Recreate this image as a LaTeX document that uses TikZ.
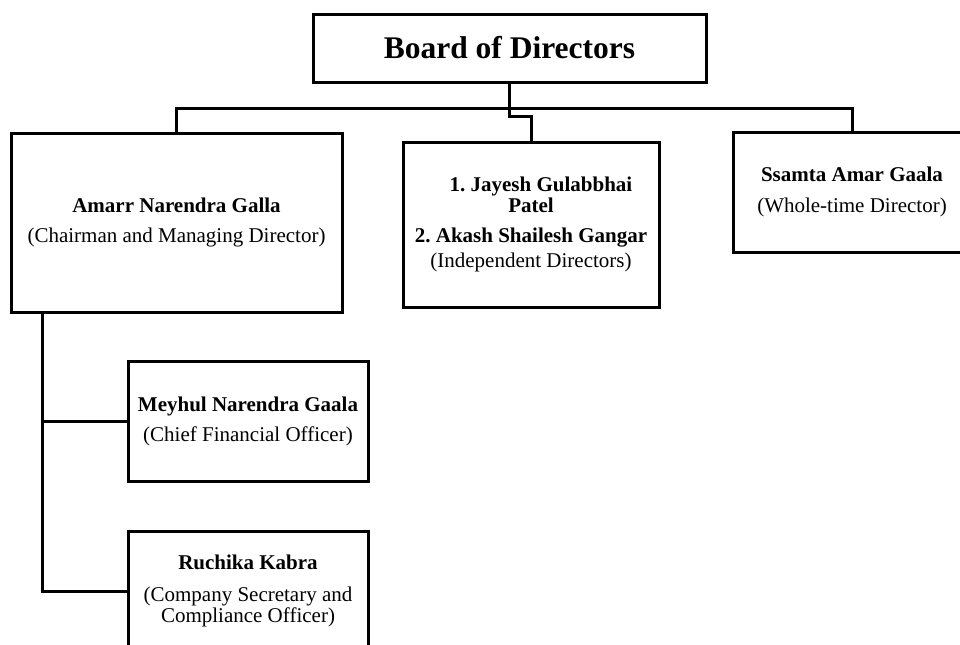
\documentclass[tikz,border=0pt]{standalone}
\usepackage{fontspec}
\setmainfont{Liberation Serif}
\frenchspacing
\usetikzlibrary{positioning}
\usetikzlibrary{calc}
\tikzstyle{board}=[rectangle,draw,line width=1.5pt,minimum width=196.5pt,minimum height=34pt,inner sep=0pt,font=\fontsize{15.75}{18}\selectfont\bfseries]
\tikzstyle{person}=[rectangle,draw,line width=1.5pt,inner sep=0pt,align=center,font=\fontsize{10.5}{10.5}\selectfont]
\tikzstyle{link} = [draw,line width=1.5pt]

\begin{document}
\begin{tikzpicture}[x=0.5pt,y=-0.5pt]
    \useasboundingbox (0,0) rectangle (960,644);

    % The board on top
    \node[board] (BD) at (509.5,48) {Board of Directors};

    % First row of directors
    \node[person,minimum width=165.5pt,minimum height=89.5pt] (CMD) at (176.5,222.5)
        {\textbf{Amarr Narendra Galla}\\[4.5pt](Chairman and Managing Director)};
    \node[person,minimum width=128pt,minimum height=82.5pt] (ID) at (531,224.5)
        {\textbf{\hspace*{10pt}1. Jayesh Gulabbhai}\\\textbf{Patel}\\[4.5pt]\textbf{2. Akash Shailesh Gangar}\\[2pt](Independent Directors)};
    \node[person,minimum width=119pt,minimum height=60pt] (WTD) at (852,192)
        {\textbf{Ssamta Amar Gaala}\\[5pt](Whole-time Director)};

    % Officers below the chairman
    \node[person,minimum width=120pt,minimum height=60pt] (CFO) at (248,421)
        {\textbf{Meyhul Narendra Gaala}\\[4.5pt](Chief Financial Officer)};
    \node[person,minimum width=120pt,minimum height=60pt] (CS) at (248,591)
        {\textbf{Ruchika Kabra}\\[5.5pt](Company Secretary and\\Compliance Officer)};

    % Connect the board with the directors
    \path[link] (BD.south) -- ++(0,25) coordinate (J);
    \path[link] (J) -| (CMD.north);
    \path[link] (J) -| (WTD.north);
    \path[link] (J) -- ++(0,8) -| (ID.north);

    % Connect the chairman with the officers
    \coordinate (T) at ($(CMD.south west)+(33,0)$);
    \foreach \dest in {CFO, CS}
        \path[link] (T) |- (\dest.west);

\end{tikzpicture}
\end{document}
